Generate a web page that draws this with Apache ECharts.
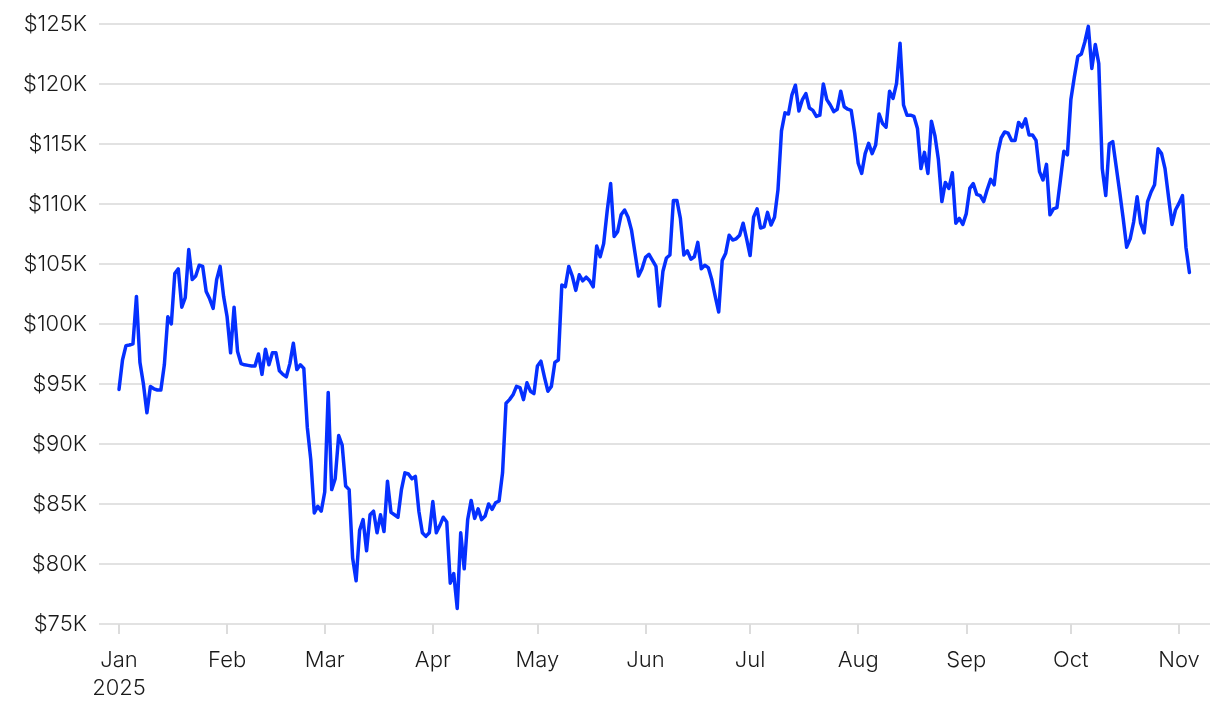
<!DOCTYPE html>
<html>
<head>
<meta charset="utf-8">
<script src="https://cdn.jsdelivr.net/npm/echarts@6/dist/echarts.min.js"></script>
<style>
html,body{margin:0;padding:0;background:#fff;}
#chart{width:1220px;height:712px;}
</style>
</head>
<body>
<div id="chart"></div>
<script>
// Daily closing price, thousands of USD, starting 1 Jan 2025
var jan = [94.55,97.0,98.2,98.25,98.35,102.3,96.8,95.0,92.6,94.8,94.6,94.5,94.5,96.6,100.6,100.0,104.2,104.6,101.4,102.2,106.2,103.7,104.0,104.9,104.8,102.7,102.1,101.3,103.7,104.8,102.3];
var feb = [100.6,97.6,101.4,97.7,96.7,96.6,96.55,96.5,96.5,97.5,95.8,97.9,96.6,97.6,97.6,96.1,95.8,95.6,96.7,98.4,96.2,96.6,96.3,91.4,88.7,84.25,84.8,84.4];
var mar = [86.0,94.3,86.2,87.1,90.7,89.9,86.5,86.2,80.5,78.6,82.8,83.7,81.1,84.1,84.4,82.6,84.1,82.7,86.9,84.3,84.1,83.9,86.2,87.6,87.5,87.1,87.3,84.4,82.6,82.3,82.6];
var apr = [85.2,82.6,83.2,83.9,83.5,78.4,79.2,76.3,82.6,79.6,83.7,85.3,83.8,84.6,83.7,84.0,85.0,84.55,85.1,85.25,87.6,93.4,93.7,94.1,94.8,94.7,93.7,95.1,94.4,94.2];
var may = [96.5,96.9,95.6,94.4,94.8,96.8,97.0,103.25,103.1,104.8,104.0,102.8,104.1,103.6,103.9,103.6,103.1,106.5,105.6,106.7,109.4,111.7,107.3,107.7,109.1,109.5,108.9,107.8,105.9,104.0,104.6];
var jun = [105.55,105.8,105.3,104.8,101.5,104.4,105.5,105.75,110.3,110.3,108.8,105.75,106.1,105.4,105.6,106.8,104.6,104.9,104.7,103.7,102.3,101.0,105.3,105.9,107.4,107.0,107.1,107.4,108.4,107.1];
var jul = [105.7,108.9,109.6,108.0,108.1,109.3,108.25,108.9,111.2,116.1,117.6,117.5,119.1,119.9,117.75,118.7,119.2,118.0,117.8,117.3,117.4,120.0,118.7,118.25,117.7,117.9,119.4,118.1,117.9,117.8,115.9];
var aug = [113.4,112.55,114.2,115.05,114.2,114.9,117.5,116.7,116.4,119.4,118.8,120.05,123.4,118.25,117.4,117.4,117.3,116.3,112.95,114.3,112.55,116.9,115.7,113.7,110.2,111.8,111.3,112.6,108.4,108.8,108.3];
var sep = [109.2,111.3,111.7,110.8,110.7,110.2,111.2,112.05,111.6,114.2,115.5,116.0,115.9,115.3,115.3,116.8,116.4,117.1,115.75,115.75,115.3,112.7,112.0,113.3,109.1,109.6,109.7,112.0,114.4,114.1];
var oct = [118.7,120.6,122.3,122.5,123.5,124.8,121.3,123.3,121.7,112.95,110.7,115.0,115.2,113.1,111.0,108.8,106.4,107.1,108.5,110.6,108.4,107.6,110.2,111.0,111.6,114.6,114.2,112.95,110.6,108.3,109.5];
var nov = [110.05,110.7,106.4,104.3];

// Month tick positions (day index from 1 Jan 2025) and their labels
var monthStartDays = [0,31,59,90,120,151,181,212,243,273,304];
var monthLabels = ['Jan\n2025','Feb','Mar','Apr','May','Jun','Jul','Aug','Sep','Oct','Nov'];

var prices = [].concat(jan,feb,mar,apr,may,jun,jul,aug,sep,oct,nov);
var seriesData = prices.map(function(v,i){ return [i, v]; });

var FONT = 'Inter, "Liberation Sans", sans-serif';
var chart = echarts.init(document.getElementById('chart'), null, {renderer:'canvas'});
chart.setOption({
  animation:false,
  backgroundColor:'#ffffff',
  grid:{left:99,right:10,top:24,bottom:88,containLabel:false},
  xAxis:{
    type:'value',
    min:-5.74, max:312.9,
    axisLine:{show:false},
    splitLine:{show:false},
    axisTick:{show:true, customValues:monthStartDays, length:10, lineStyle:{color:'#dcdcdc', width:2}},
    axisLabel:{
      customValues:monthStartDays,
      margin:22,
      color:'#1a1a1a',
      fontFamily:FONT,
      fontWeight:300,
      fontSize:22,
      lineHeight:28,
      verticalAlign:'top',
      formatter:function(v){ var k = monthStartDays.indexOf(Math.round(v)); return k>=0 ? monthLabels[k] : ''; }
    }
  },
  yAxis:{
    type:'value',
    min:75, max:125, interval:5,
    axisLine:{show:false},
    axisTick:{show:false},
    splitLine:{show:true, lineStyle:{color:'#e2e2e2', width:2}},
    axisLabel:{
      margin:12,
      color:'#1a1a1a',
      fontFamily:FONT,
      fontWeight:300,
      fontSize:22,
      formatter:function(v){ return '$' + v + 'K'; }
    }
  },
  series:[{
    type:'line',
    data:seriesData,
    showSymbol:false,
    symbol:'none',
    lineStyle:{color:'#0530ff', width:3.5, join:'round', cap:'round'},
    itemStyle:{color:'#0530ff'}
  }]
});
</script>
</body>
</html>
